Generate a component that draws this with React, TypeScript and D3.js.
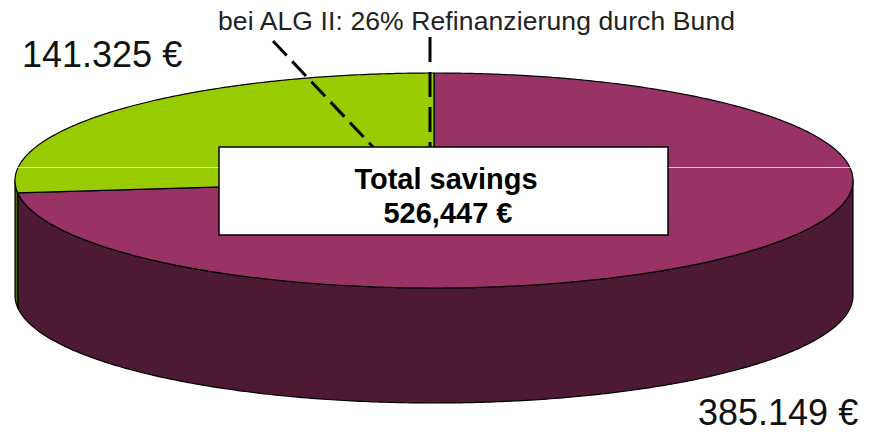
import { pie, line } from 'd3';

// slice data
const labels = ['Kommune', 'Bund'];
const values = [385149, 141325];
const valueLabels = ['385.149 €', '141.325 €'];
const topColors = ['#993366', '#99cc00'];
const sideColors = ['#4c1a33', '#4d6600'];

const title = ['Total savings', '526,447 €'];
const note = 'bei ALG II: 26% Refinanzierung durch Bund';

const W = 876;
const H = 432;
const cx = 434;
const cy = 180.5;
const rx = 419;
const ry = 107.5;
const depth = 115;

const FONT = '"Liberation Sans", Arial, sans-serif';

// angle a measured clockwise from 12 o'clock, like d3.pie
const pt = (a: number, dy = 0): [number, number] => [
  cx + rx * Math.sin(a),
  cy - ry * Math.cos(a) + dy,
];

const arcPts = (a0: number, a1: number, dy = 0) => {
  const n = Math.max(2, Math.ceil(Math.abs(a1 - a0) / 0.01));
  const out: [number, number][] = [];
  for (let i = 0; i <= n; i++) out.push(pt(a0 + ((a1 - a0) * i) / n, dy));
  return out;
};

const lineGen = line<[number, number]>();

export default function App() {
  const arcs = pie<number>().sort(null)(values);

  const front0 = Math.PI / 2;
  const front1 = (3 * Math.PI) / 2;

  const sides = arcs
    .map((d, i) => {
      const s = Math.max(d.startAngle, front0);
      const e = Math.min(d.endAngle, front1);
      if (e <= s) return null;
      const pts = [...arcPts(s, e), ...arcPts(e, s, depth)];
      return { i, path: lineGen(pts) + 'Z' };
    })
    .filter(Boolean) as { i: number; path: string }[];

  const tops = arcs.map((d, i) => {
    const pts: [number, number][] = [[cx, cy], ...arcPts(d.startAngle, d.endAngle)];
    return { i, path: lineGen(pts) + 'Z' };
  });

  return (
    <div style={{ position: 'absolute', left: 0, top: 0 }}>
      <svg width={W} height={H} style={{ display: 'block', background: '#fff' }}>
        {sides.map((s) => (
          <path
            key={'s' + s.i}
            d={s.path}
            fill={sideColors[s.i]}
            stroke="#000"
            strokeWidth={1.2}
            strokeLinejoin="round"
          />
        ))}
        {tops.map((t) => (
          <path
            key={'t' + t.i}
            d={t.path}
            fill={topColors[t.i]}
            stroke="#000"
            strokeWidth={1.2}
            strokeLinejoin="round"
          />
        ))}

        {/* faint horizontal artifact line */}
        <line x1={15} x2={853} y1={167.5} y2={167.5} stroke="#fff" strokeOpacity={0.7} strokeWidth={1} />

        {/* leader lines */}
        <line
          x1={273}
          y1={41}
          x2={373}
          y2={147}
          stroke="#000"
          strokeWidth={3}
          strokeDasharray="20 8"
        />
        <line
          x1={430}
          y1={37}
          x2={430}
          y2={147}
          stroke="#000"
          strokeWidth={3}
          strokeDasharray="25 10"
        />

        {/* total box */}
        <rect x={219} y={147} width={449} height={88} fill="#fff" stroke="#000" strokeWidth={1.5} />
        <text
          x={446}
          y={189}
          textAnchor="middle"
          fontFamily={FONT}
          fontWeight="bold"
          fontSize={29}
          fill="#000"
        >
          {title[0]}
        </text>
        <text
          x={448}
          y={223}
          textAnchor="middle"
          fontFamily={FONT}
          fontWeight="bold"
          fontSize={29}
          fill="#000"
        >
          {title[1]}
        </text>

        {/* value labels */}
        <text x={22} y={67} fontFamily={FONT} fontSize={36} fill="#111">
          {valueLabels[1]}
        </text>
        <text x={698} y={425} fontFamily={FONT} fontSize={36} fill="#111">
          {valueLabels[0]}
        </text>

        <text
          x={218}
          y={30}
          fontFamily={FONT}
          fontSize={26.5}
          fill="#222"
          textLength={517}
          lengthAdjust="spacing"
        >
          {note}
        </text>
        <title>{labels.join(' / ')}</title>
      </svg>
    </div>
  );
}
